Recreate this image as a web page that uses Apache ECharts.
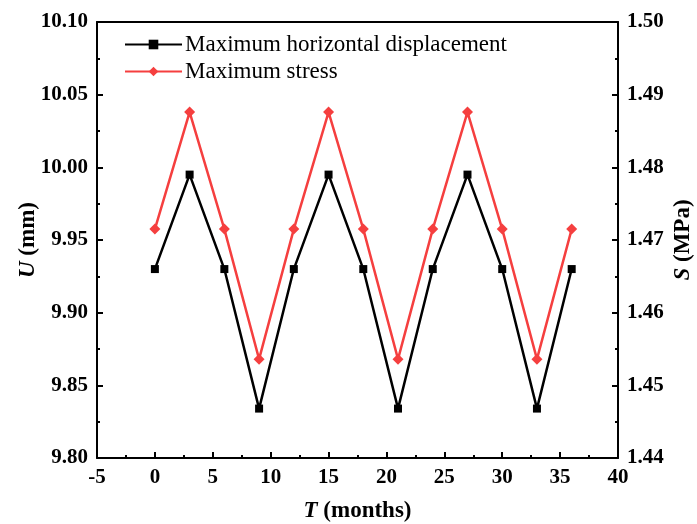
<!DOCTYPE html>
<html>
<head>
<meta charset="utf-8">
<script src="https://cdn.jsdelivr.net/npm/echarts@6/dist/echarts.min.js"></script>
<style>
html, body { margin: 0; padding: 0; background: #fff; }
#main { width: 697px; height: 524px; }
</style>
</head>
<body>
<div id="main"></div>
<script>
var months = [0, 3, 6, 9, 12, 15, 18, 21, 24, 27, 30, 33, 36];
var displacement = [9.930, 9.995, 9.930, 9.834, 9.930, 9.995, 9.930, 9.834, 9.930, 9.995, 9.930, 9.834, 9.930];
var stress = [1.4715, 1.4876, 1.4715, 1.4536, 1.4715, 1.4876, 1.4715, 1.4536, 1.4715, 1.4876, 1.4715, 1.4536, 1.4715];

var FONT = '"Liberation Serif", "Times New Roman", serif';
var RED = '#f53f3f';

var chart = echarts.init(document.getElementById('main'));

function pairs(xs, ys) {
	var out = [];
	for (var i = 0; i < xs.length; i++) out.push([xs[i], ys[i]]);
	return out;
}

var axisLine = { show: true, onZero: false, lineStyle: { color: '#000', width: 2 } };
var tickLabel = { color: '#000', fontFamily: FONT, fontWeight: 'bold', fontSize: 21 };
var nameStyle = {
	fontFamily: FONT, fontWeight: 'bold', fontSize: 23, color: '#000',
	rich: { i: { fontFamily: FONT, fontWeight: 'bold', fontStyle: 'italic', fontSize: 23, color: '#000' } }
};
var ticks = { show: true, inside: true, length: 6, lineStyle: { color: '#000', width: 2 } };
var minor = { show: true, splitNumber: 2, length: 3, lineStyle: { color: '#000', width: 2 } };

option = {
	animation: false,
	grid: { left: 97, right: 79, top: 22, bottom: 66, containLabel: false, outerBoundsMode: 'none' },
	legend: {
		left: 119,
		top: 28,
		orient: 'vertical',
		itemWidth: 57,
		itemHeight: 12,
		itemGap: 4,
		textStyle: { fontFamily: FONT, fontSize: 23, color: '#000', padding: [0, 0, 0, -2] },
		data: ['Maximum horizontal displacement', 'Maximum stress']
	},
	xAxis: [
		{
			type: 'value',
			min: -5,
			max: 40,
			interval: 5,
			name: '{i|T} (months)',
			nameLocation: 'middle',
			nameGap: 42,
			nameMoveOverlap: false,
			nameTextStyle: nameStyle,
			axisLine: axisLine,
			axisTick: ticks,
			minorTick: minor,
			axisLabel: Object.assign({ margin: 9 }, tickLabel),
			splitLine: { show: false },
			minorSplitLine: { show: false }
		},
		{
			type: 'value',
			position: 'top',
			min: -5,
			max: 40,
			axisLine: axisLine,
			axisTick: { show: false },
			axisLabel: { show: false },
			splitLine: { show: false }
		}
	],
	yAxis: [
		{
			type: 'value',
			min: 9.80,
			max: 10.10,
			interval: 0.05,
			name: '{i|U} (mm)',
			nameLocation: 'middle',
			nameGap: 57,
			nameMoveOverlap: false,
			nameRotate: 90,
			nameTextStyle: nameStyle,
			axisLine: axisLine,
			axisTick: ticks,
			minorTick: minor,
			axisLabel: Object.assign({ margin: 9, formatter: function (v) { return v.toFixed(2); } }, tickLabel),
			splitLine: { show: false }
		},
		{
			type: 'value',
			position: 'right',
			min: 1.44,
			max: 1.50,
			interval: 0.01,
			name: '{i|S} (MPa)',
			nameLocation: 'middle',
			nameGap: 54,
			nameMoveOverlap: false,
			nameRotate: 90,
			nameTextStyle: nameStyle,
			axisLine: axisLine,
			axisTick: ticks,
			minorTick: minor,
			axisLabel: Object.assign({ margin: 9, formatter: function (v) { return v.toFixed(2); } }, tickLabel),
			splitLine: { show: false }
		}
	],
	series: [
		{
			name: 'Maximum horizontal displacement',
			type: 'line',
			xAxisIndex: 0,
			yAxisIndex: 0,
			data: pairs(months, displacement),
			symbol: 'rect',
			symbolSize: 8,
			itemStyle: { color: '#000' },
			lineStyle: { color: '#000', width: 2.5 }
		},
		{
			name: 'Maximum stress',
			type: 'line',
			xAxisIndex: 0,
			yAxisIndex: 1,
			data: pairs(months, stress),
			symbol: 'diamond',
			symbolSize: 11,
			itemStyle: { color: RED },
			lineStyle: { color: RED, width: 2.5 }
		}
	]
};
chart.setOption(option);
</script>
</body>
</html>
